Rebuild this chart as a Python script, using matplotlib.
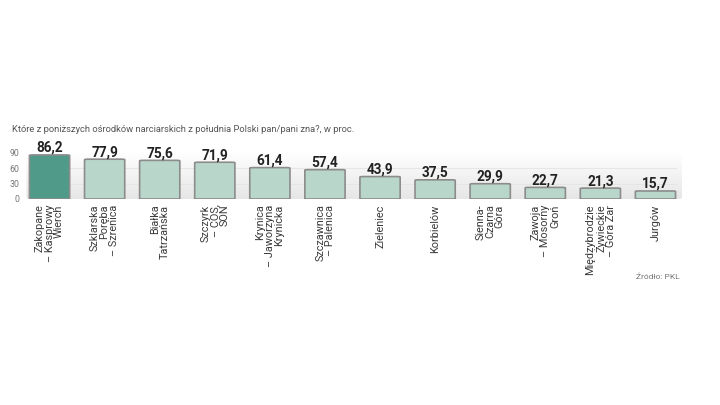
import numpy as np
import matplotlib
matplotlib.use("Agg")
import matplotlib.pyplot as plt
from matplotlib.patches import FancyBboxPatch

labels = ["Zakopane\n– Kasprowy\nWierch", "Szklarska\nPoręba\n– Szrenica", "Białka\nTatrzańska",
          "Szczyrk\n– COS,\nSON", "Krynica\n– Jaworzyna\nKrynicka", "Szczawnica\n– Palenica",
          "Zieleniec", "Korbielów", "Sienna-\nCzarna\nGóra", "Zawoja\n– Mosorny\nGroń",
          "Międzybrodzie\nŻywieckie\n– Góra Żar", "Jurgów"]
values = [86.2, 77.9, 75.6, 71.9, 61.4, 57.4, 43.9, 37.5, 29.9, 22.7, 21.3, 15.7]
yticks = [0, 30, 60, 90]

title = "Które z poniższych ośrodków narciarskich z południa Polski pan/pani zna?, w proc."
source = "Źródło: PKL"

plt.rcParams["font.family"] = ["Roboto", "DejaVu Sans"]

W, H = 720, 406
fig = plt.figure(figsize=(W / 100, H / 100), dpi=100)
fig.patch.set_facecolor("white")

# axes: x -0.5..11.5 over px 22..683, y 0..90 over px 200..154
ax = fig.add_axes([22 / W, (H - 200) / H, 661 / W, 46 / H])
ax.set_xlim(-0.5, 11.5)
ax.set_ylim(0, 90)
ax.axis("off")

# background panel with vertical gradient (white at top, light grey at bottom)
panel = FancyBboxPatch((-0.42, -2), 11.9, 94, boxstyle="round,pad=0,rounding_size=0.25",
                       mutation_aspect=20, transform=ax.transData,
                       facecolor="none", edgecolor="none", clip_on=False)
ax.add_patch(panel)
shade = np.linspace(1.0, 0.90, 100)
grad = np.dstack([shade, shade, shade]).reshape(100, 1, 3)
img = ax.imshow(grad, extent=(-0.42, 11.48, -2, 92), aspect="auto", zorder=0,
                origin="upper", interpolation="bilinear")
img.set_clip_path(panel)
for g in (30, 60):
    ax.axhline(g, xmin=0.01, xmax=0.99, color="#e4e4e4", linewidth=0.6, zorder=1)
ax.set_xlim(-0.5, 11.5)
ax.set_ylim(0, 90)

for i, v in enumerate(values):
    fc = "#4f9a88" if i == 0 else "#b9d6cb"
    bar = FancyBboxPatch((i - 0.365, 0), 0.73, v,
                         boxstyle="round,pad=0,rounding_size=0.06", mutation_aspect=18,
                         facecolor=fc, edgecolor="#8c8c8c", linewidth=1.2, zorder=2)
    ax.add_patch(bar)
    ax.text(i, v + 2, f"{v:.1f}".replace(".", ","), ha="center", va="bottom",
            fontsize=9.8, fontweight="bold", color="#222222", clip_on=False)
    ax.text(i, -9, labels[i], rotation=90, ha="center", va="top", multialignment="right",
            fontsize=7.8, color="#3a3a3a", linespacing=0.95, clip_on=False)

for t in yticks:
    ax.text(-0.55, t, str(t), ha="right", va="center", fontsize=6.3, color="#777777", clip_on=False)

fig.text(12 / W, 1 - 130 / H, title, ha="left", va="center", fontsize=6.75,
         color="#555555")
fig.text(680 / W, 1 - 277 / H, source, ha="right", va="center", fontsize=6,
         color="#777777")

fig.savefig("out.png", dpi=100)
